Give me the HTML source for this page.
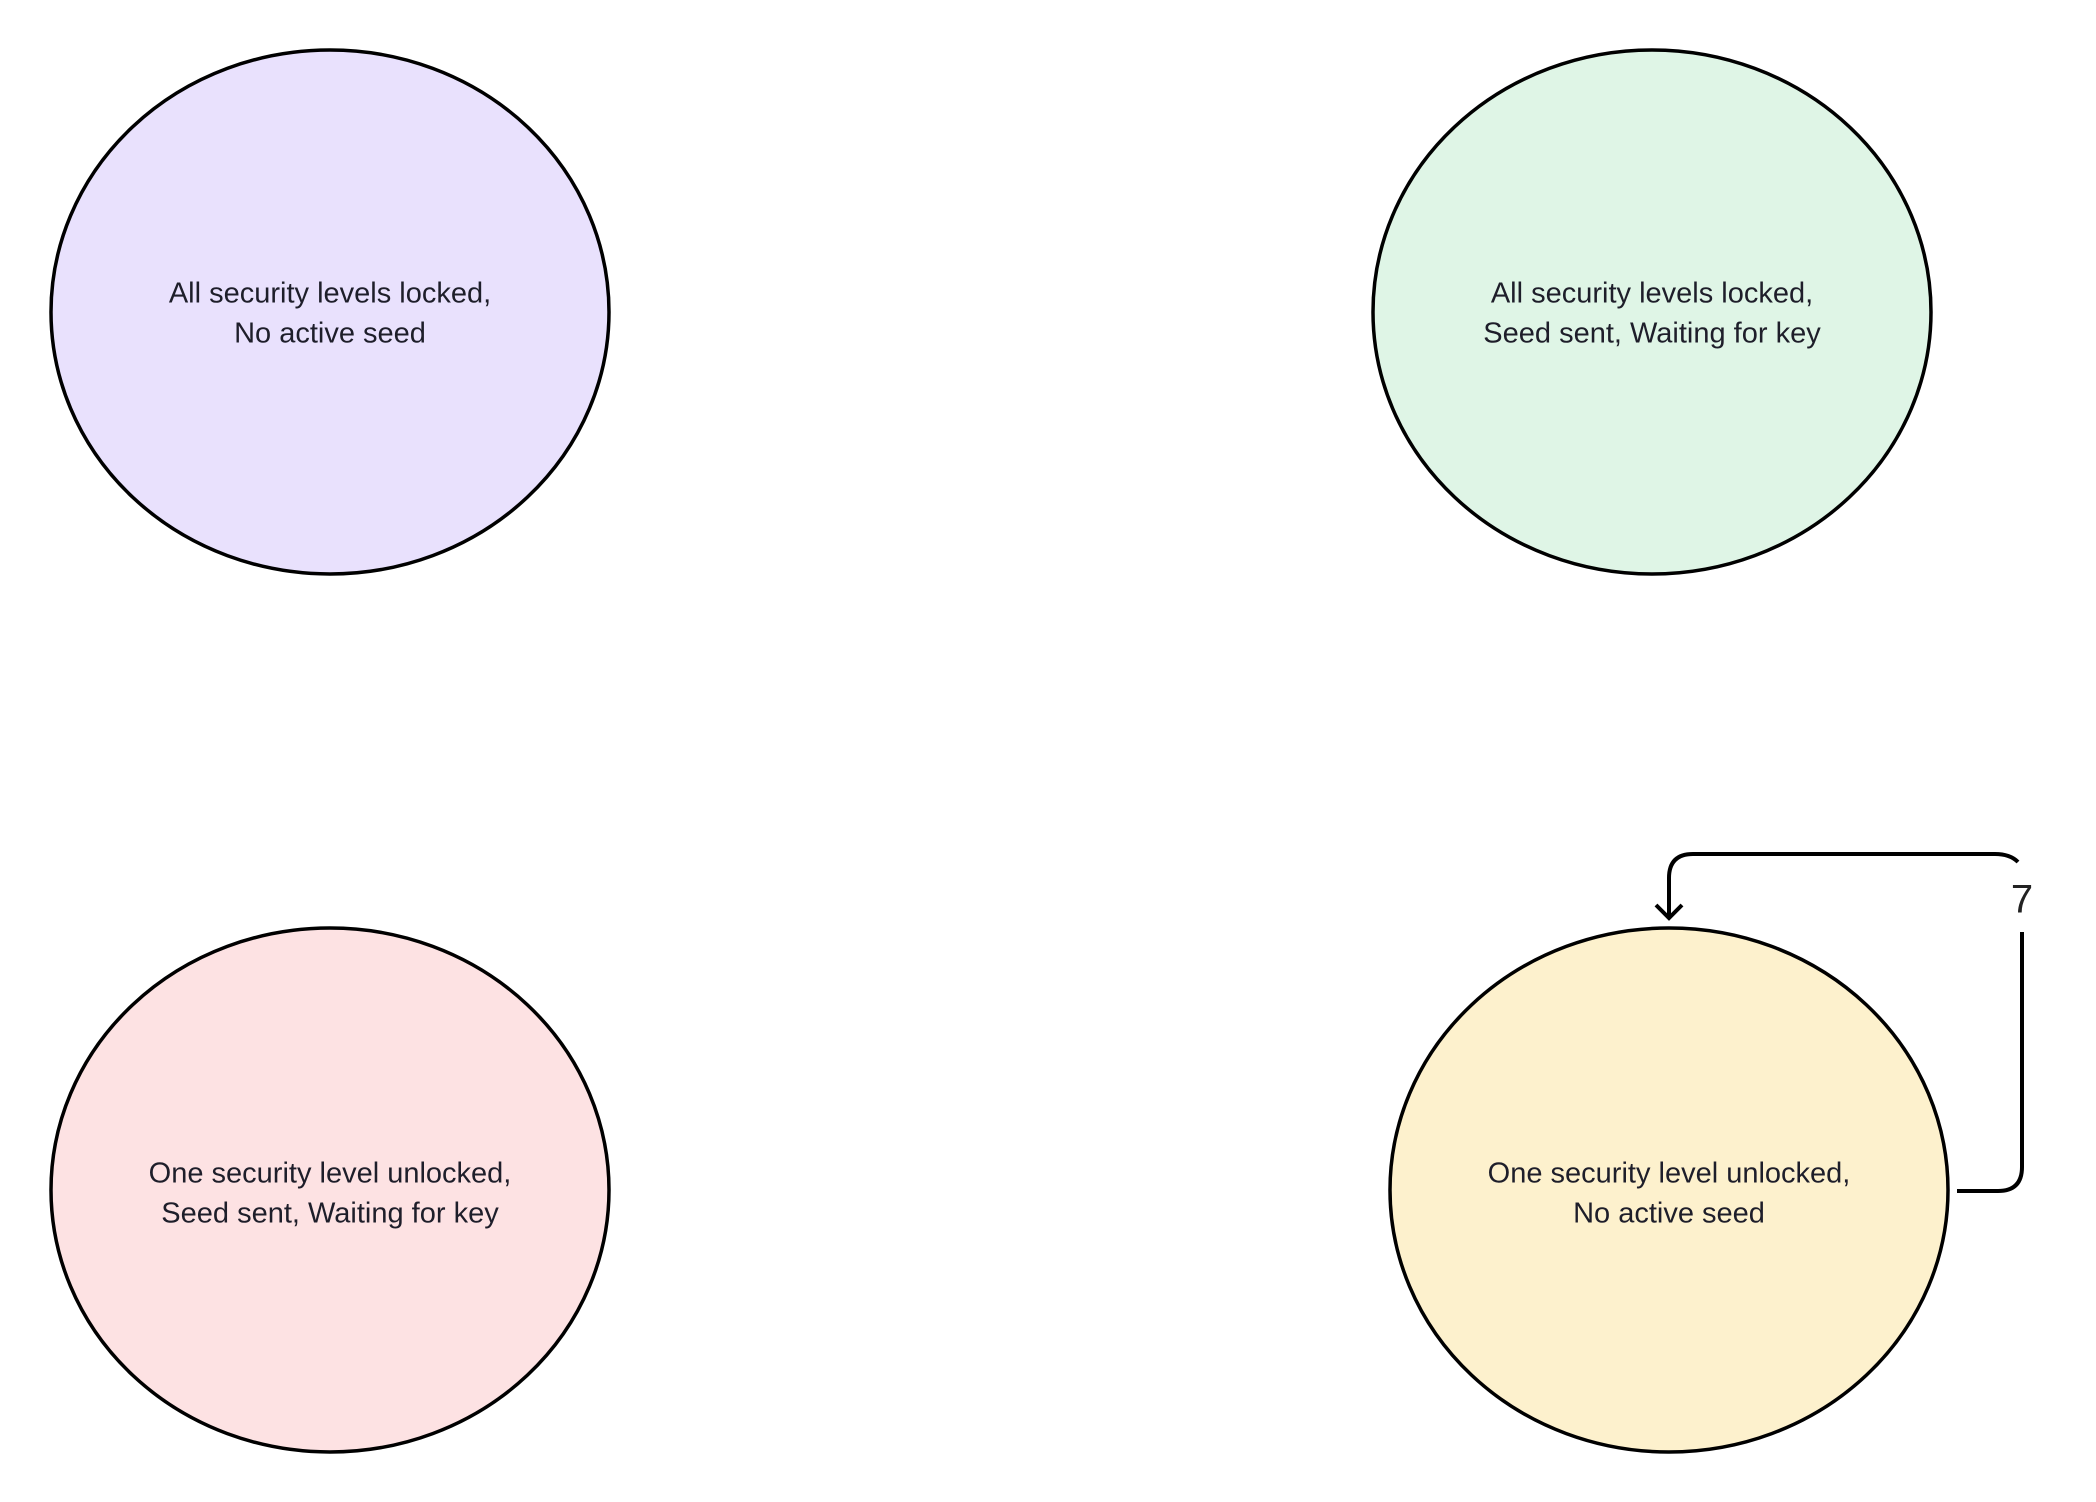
<!DOCTYPE html>
<html><head><meta charset="utf-8"><style>html,body{margin:0;padding:0;background:#fff}svg{display:block}</style></head>
<body>
<svg width="2096" height="1502" viewBox="0 0 2096 1502" xmlns="http://www.w3.org/2000/svg">
<g stroke="#000" stroke-width="3.5">
<ellipse cx="330" cy="312" rx="279" ry="262" fill="#e9e1fd"/>
<ellipse cx="1652" cy="312" rx="279" ry="262" fill="#dff5e6"/>
<ellipse cx="330" cy="1190" rx="279" ry="262" fill="#fde2e3"/>
<ellipse cx="1669" cy="1190" rx="279" ry="262" fill="#fdf1cd"/>
</g>
<g fill="none" stroke="#000" stroke-width="4">
<path d="M1957 1191 H1998 Q2022 1191 2022 1167 V932"/>
<path d="M2018 862 Q2010 854 1995 854 H1693 Q1669 854 1669 878 V918"/>
<path d="M1656 905 L1669 918 L1682 905"/>
</g>
<text x="2022" y="902" font-family="Liberation Sans, sans-serif" font-size="40" fill="#222" text-anchor="middle" dominant-baseline="middle">7</text>
<g font-family="Liberation Sans, sans-serif" font-size="29" fill="#1e1e2a" text-anchor="middle" dominant-baseline="middle">
<text x="330" y="295">All security levels locked,</text>
<text x="330" y="335">No active seed</text>
<text x="1652" y="295">All security levels locked,</text>
<text x="1652" y="335">Seed sent, Waiting for key</text>
<text x="330" y="1175">One security level unlocked,</text>
<text x="330" y="1215">Seed sent, Waiting for key</text>
<text x="1669" y="1175">One security level unlocked,</text>
<text x="1669" y="1215">No active seed</text>
</g>
</svg>
</body></html>
